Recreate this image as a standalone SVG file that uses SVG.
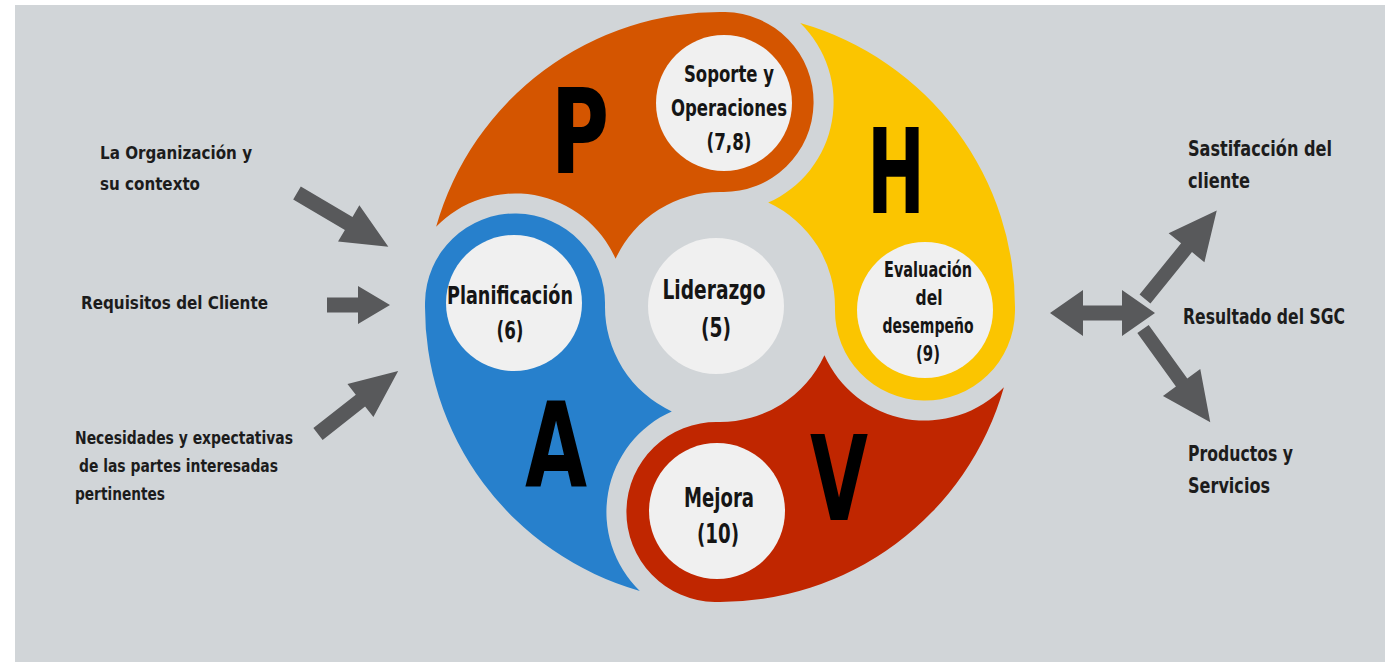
<svg xmlns="http://www.w3.org/2000/svg" xmlns:xlink="http://www.w3.org/1999/xlink" width="1385" height="662" viewBox="0 0 1385 662">
<style>
.bg{fill:#d1d5d8}
.wc{fill:#f0f0f0}
text{font-family:"Liberation Sans Narrow","DejaVu Sans Condensed","DejaVu Sans",sans-serif;font-weight:bold}
.nt{fill:#151515;text-anchor:middle}
.big{fill:#000;text-anchor:middle;font-size:118px}
.lt{fill:#1c1c1c;font-size:18px}
.rt{fill:#1c1c1c;font-size:22px}
.arr{fill:#58595b}
</style>
<defs>
<path id="seg" d="M -285.24 -75.25 A 295 295 0 0 1 0 -295 A 90 90 0 0 1 0 -115 A 115 115 0 0 0 -105.24 -46.36 A 110 110 0 0 0 -285.24 -75.25 Z"/>
</defs>
<rect x="0" y="0" width="1385" height="662" fill="#ffffff"/>
<rect class="bg" x="15" y="5" width="1370" height="657"/>

<g id="seg-P">
<use xlink:href="#seg" href="#seg" fill="#d45500" transform="translate(720,307) rotate(1)"/>
<text class="big" x="580" y="173" textLength="58" lengthAdjust="spacingAndGlyphs">P</text>
</g>
<g id="seg-H">
<use xlink:href="#seg" href="#seg" fill="#fbc500" transform="translate(720,307) rotate(91)"/>
<text class="big" x="896" y="213" textLength="58" lengthAdjust="spacingAndGlyphs">H</text>
</g>
<g id="seg-V">
<use xlink:href="#seg" href="#seg" fill="#c02600" transform="translate(720,307) rotate(181)"/>
<text class="big" x="839" y="520" textLength="58" lengthAdjust="spacingAndGlyphs">V</text>
</g>
<g id="seg-A">
<use xlink:href="#seg" href="#seg" fill="#2780cc" transform="translate(720,307) rotate(271)"/>
<text class="big" x="556" y="487" textLength="62" lengthAdjust="spacingAndGlyphs">A</text>
</g>

<g id="node-soporte">
<circle class="wc" cx="724" cy="103" r="68"/>
<text class="nt" font-size="23" x="729" y="82" textLength="90" lengthAdjust="spacingAndGlyphs">Soporte y</text>
<text class="nt" font-size="23" x="729" y="116" textLength="116" lengthAdjust="spacingAndGlyphs">Operaciones</text>
<text class="nt" font-size="23" x="729" y="150" textLength="45" lengthAdjust="spacingAndGlyphs">(7,8)</text>
</g>
<g id="node-planificacion">
<circle class="wc" cx="514" cy="303" r="68"/>
<text class="nt" font-size="24" x="510" y="304" textLength="126" lengthAdjust="spacingAndGlyphs">Planificación</text>
<text class="nt" font-size="24" x="510" y="339" textLength="27" lengthAdjust="spacingAndGlyphs">(6)</text>
</g>
<g id="node-liderazgo">
<circle class="wc" cx="716" cy="306" r="68"/>
<text class="nt" font-size="26" x="714" y="299" textLength="103" lengthAdjust="spacingAndGlyphs">Liderazgo</text>
<text class="nt" font-size="26" x="716" y="337" textLength="30" lengthAdjust="spacingAndGlyphs">(5)</text>
</g>
<g id="node-evaluacion">
<circle class="wc" cx="925" cy="310" r="68"/>
<text class="nt" font-size="21" x="928" y="277" textLength="88" lengthAdjust="spacingAndGlyphs">Evaluación</text>
<text class="nt" font-size="21" x="929" y="305" textLength="27" lengthAdjust="spacingAndGlyphs">del</text>
<text class="nt" font-size="21" x="928" y="333" textLength="91" lengthAdjust="spacingAndGlyphs">desempeño</text>
<text class="nt" font-size="21" x="928" y="361" textLength="24" lengthAdjust="spacingAndGlyphs">(9)</text>
</g>
<g id="node-mejora">
<circle class="wc" cx="717" cy="511" r="68"/>
<text class="nt" font-size="26" x="719" y="507" textLength="70" lengthAdjust="spacingAndGlyphs">Mejora</text>
<text class="nt" font-size="26" x="718" y="543" textLength="42" lengthAdjust="spacingAndGlyphs">(10)</text>
</g>

<g id="node-inputs">
<text class="lt" x="100" y="159" textLength="152" lengthAdjust="spacingAndGlyphs">La Organización y</text>
<text class="lt" x="100" y="190" textLength="100" lengthAdjust="spacingAndGlyphs">su contexto</text>
<text class="lt" x="81" y="309" textLength="187" lengthAdjust="spacingAndGlyphs">Requisitos del Cliente</text>
<text class="lt" x="75" y="444" textLength="218" lengthAdjust="spacingAndGlyphs">Necesidades y expectativas</text>
<text class="lt" x="79" y="472" textLength="199" lengthAdjust="spacingAndGlyphs">de las partes interesadas</text>
<text class="lt" x="75" y="500" textLength="90" lengthAdjust="spacingAndGlyphs">pertinentes</text>
</g>
<g id="node-outputs">
<text class="rt" transform="translate(1188,156) scale(0.78,1)" textLength="184.6" lengthAdjust="spacingAndGlyphs">Sastifacción del</text>
<text class="rt" transform="translate(1188,188) scale(0.78,1)" textLength="79.5" lengthAdjust="spacingAndGlyphs">cliente</text>
<text class="rt" transform="translate(1183,324) scale(0.78,1)" textLength="207.7" lengthAdjust="spacingAndGlyphs">Resultado del SGC</text>
<text class="rt" transform="translate(1188,461) scale(0.78,1)" textLength="134.6" lengthAdjust="spacingAndGlyphs">Productos y</text>
<text class="rt" transform="translate(1188,493) scale(0.78,1)" textLength="105.1" lengthAdjust="spacingAndGlyphs">Servicios</text>
</g>

<g id="connectors" class="arr">
<polygon transform="translate(297,193) rotate(30.5)" points="0,-7.5 60,-7.5 60,-21 106,0 60,21 60,7.5 0,7.5"/>
<polygon transform="translate(327,305)" points="0,-7.5 31,-7.5 31,-19 63,0 31,19 31,7.5 0,7.5"/>
<polygon transform="translate(318,434) rotate(-38.2)" points="0,-7.5 54,-7.5 54,-21 102,0 54,21 54,7.5 0,7.5"/>
<polygon transform="translate(1050,313)" points="0,0 33,-23 33,-7.5 72,-7.5 72,-23 105,0 72,23 72,7.5 33,7.5 33,23"/>
<polygon transform="translate(1145,299) rotate(-51)" points="0,-7 66,-7 66,-23 114,0 66,23 66,7 0,7"/>
<polygon transform="translate(1143,329) rotate(54.2)" points="0,-7 66,-7 66,-23 115,0 66,23 66,7 0,7"/>
</g>
</svg>
